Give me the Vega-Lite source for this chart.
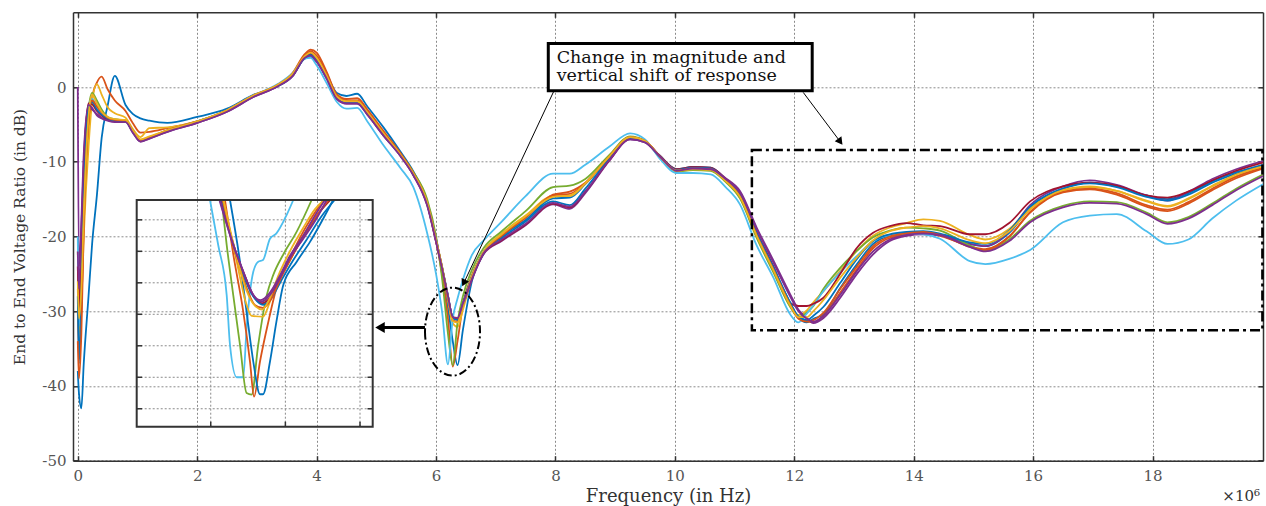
{
"$schema":"https://vega.github.io/schema/vega-lite/v6.json",
"width":1190,"height":448.4,
"autosize":{"type":"none"},
"padding":{"left":73,"top":12.3,"right":3,"bottom":45.3},
"background":"white",
"config":{"view":{"stroke":null},"font":"DejaVu Serif","axis":{"labelFont":"DejaVu Serif","titleFont":"DejaVu Serif"}},
"datasets":{
"main":[
{"f":0,"s1":-38,"s2":-30,"s3":-27,"s4":0,"s5":-22,"s6":-20,"s7":-24,"s8":-28,"s9":-34,"s10":-26,"s11":-22},
{"f":0.02,"s1":-41,"s2":-36,"s3":-33,"s4":-24,"s5":-29,"s6":-32,"s7":-30,"s8":-37,"s9":-39,"s10":-31,"s11":-27},
{"f":0.06,"s1":-43,"s2":-30,"s3":-29,"s4":-19,"s5":-22,"s6":-24,"s7":-21,"s8":-28,"s9":-33,"s10":-27,"s11":-18},
{"f":0.1,"s1":-37,"s2":-18,"s3":-20,"s4":-10,"s5":-12,"s6":-13,"s7":-11,"s8":-15,"s9":-19,"s10":-17,"s11":-9},
{"f":0.18,"s1":-28,"s2":-6,"s3":-8,"s4":-2.6,"s5":-3,"s6":-2.5,"s7":-2.2,"s8":-3,"s9":-4.5,"s10":-4,"s11":-2.4},
{"f":0.24,"s1":-21,"s2":-1.5,"s3":-2,"s4":-3,"s5":-0.8,"s6":-1.6,"s7":-2.3,"s8":-2,"s9":-1.8,"s10":-1,"s11":-2.8},
{"f":0.32,"s1":-14.5,"s2":0.6,"s3":0.4,"s4":-3.6,"s5":-1.8,"s6":-2.6,"s7":-3.2,"s8":-3,"s9":-2.6,"s10":-2.2,"s11":-3.8},
{"f":0.4,"s1":-6.8,"s2":1.4,"s3":-1,"s4":-4.1,"s5":-3,"s6":-3.5,"s7":-3.8,"s8":-3.7,"s9":-3.4,"s10":-3.3,"s11":-4.2},
{"f":0.5,"s1":-2.5,"s2":-0.3,"s3":-2.7,"s4":-4.4,"s5":-4,"s6":-4.1,"s7":-4.3,"s8":-4.2,"s9":-4.1,"s10":-4,"s11":-4.5},
{"f":0.62,"s1":1.5,"s2":-1.8,"s3":-3.5,"s4":-4.6,"s5":-4.3,"s6":-4.4,"s7":-4.5,"s8":-4.5,"s9":-4.4,"s10":-4.3,"s11":-4.7},
{"f":0.8,"s1":-2.4,"s2":-3.2,"s3":-4.1,"s4":-4.6,"s5":-4.5,"s6":-4.5,"s7":-4.5,"s8":-4.6,"s9":-4.5,"s10":-4.4,"s11":-4.7},
{"f":0.92,"s1":-3.6,"s2":-4.8,"s3":-5.6,"s4":-6,"s5":-5.8,"s6":-5.9,"s7":-5.9,"s8":-6,"s9":-5.9,"s10":-5.8,"s11":-6.1},
{"f":1.05,"s1":-4.2,"s2":-6.1,"s3":-6.7,"s4":-7.3,"s5":-7.1,"s6":-7.2,"s7":-7.2,"s8":-7.2,"s9":-7.1,"s10":-7,"s11":-7.3},
{"f":1.2,"s1":-4.5,"s2":-6,"s3":-5.5,"s4":-6.9,"s5":-6.7,"s6":-6.8,"s7":-6.8,"s8":-6.8,"s9":-6.7,"s10":-6.6,"s11":-6.9},
{"f":1.5,"s1":-4.8,"s2":-5.5,"s3":-5.4,"s4":-6,"s5":-5.8,"s6":-5.9,"s7":-5.9,"s8":-5.9,"s9":-5.8,"s10":-5.8,"s11":-6},
{"f":2.0,"s1":-4,"s2":-4.6,"s3":-4.6,"s4":-4.8,"s5":-4.6,"s6":-4.6,"s7":-4.7,"s8":-4.7,"s9":-4.6,"s10":-4.6,"s11":-4.8},
{"f":2.5,"s1":-2.9,"s2":-3.2,"s3":-3.1,"s4":-3.3,"s5":-3.2,"s6":-3.1,"s7":-3.2,"s8":-3.2,"s9":-3.1,"s10":-3.1,"s11":-3.3},
{"f":2.95,"s1":-1,"s2":-1.2,"s3":-1.1,"s4":-1.3,"s5":-1.2,"s6":-1.1,"s7":-1.2,"s8":-1.2,"s9":-1.1,"s10":-1.1,"s11":-1.3},
{"f":3.35,"s1":0.1,"s2":0.3,"s3":0.3,"s4":0.1,"s5":0.2,"s6":0.4,"s7":0.2,"s8":0.2,"s9":0.3,"s10":0.3,"s11":0.1},
{"f":3.6,"s1":1.5,"s2":1.9,"s3":1.8,"s4":1.5,"s5":1.7,"s6":1.9,"s7":1.6,"s8":1.6,"s9":1.8,"s10":1.8,"s11":1.5},
{"f":3.8,"s1":3.8,"s2":4.4,"s3":4.1,"s4":3.9,"s5":4,"s6":3.8,"s7":4,"s8":3.9,"s9":4.2,"s10":4.1,"s11":3.9},
{"f":3.9,"s1":4,"s2":5,"s3":4.5,"s4":4.3,"s5":4.4,"s6":3.9,"s7":4.4,"s8":4.3,"s9":4.8,"s10":4.6,"s11":4.2},
{"f":4.0,"s1":3.4,"s2":4.6,"s3":3.9,"s4":3.5,"s5":3.6,"s6":2.9,"s7":3.6,"s8":3.5,"s9":4.2,"s10":3.9,"s11":3.4},
{"f":4.17,"s1":1.6,"s2":2,"s3":1.5,"s4":1.1,"s5":1.3,"s6":0.5,"s7":1.3,"s8":1.2,"s9":1.8,"s10":1.5,"s11":1.1},
{"f":4.34,"s1":-0.8,"s2":-1,"s3":-1.3,"s4":-1.6,"s5":-1.4,"s6":-2,"s7":-1.4,"s8":-1.5,"s9":-1.2,"s10":-1.3,"s11":-1.6},
{"f":4.5,"s1":-1.2,"s2":-1.6,"s3":-1.9,"s4":-2.2,"s5":-2.1,"s6":-2.9,"s7":-2,"s8":-2.1,"s9":-1.8,"s10":-1.9,"s11":-2.2},
{"f":4.68,"s1":-0.9,"s2":-1.5,"s3":-1.9,"s4":-2.2,"s5":-2.1,"s6":-2.8,"s7":-2,"s8":-2.1,"s9":-1.8,"s10":-1.9,"s11":-2.2},
{"f":4.85,"s1":-2.6,"s2":-3,"s3":-3.4,"s4":-3.7,"s5":-3.6,"s6":-4.6,"s7":-3.5,"s8":-3.6,"s9":-3.3,"s10":-3.4,"s11":-3.7},
{"f":5.12,"s1":-5.4,"s2":-5.9,"s3":-6.2,"s4":-6.5,"s5":-6.4,"s6":-7.8,"s7":-6.3,"s8":-6.4,"s9":-6.1,"s10":-6.2,"s11":-6.5},
{"f":5.4,"s1":-8.6,"s2":-8.8,"s3":-9,"s4":-9.2,"s5":-9,"s6":-10.8,"s7":-9,"s8":-9.1,"s9":-8.9,"s10":-9,"s11":-9.2},
{"f":5.62,"s1":-11.3,"s2":-11.5,"s3":-11.6,"s4":-11.8,"s5":-11.4,"s6":-13.4,"s7":-11.7,"s8":-11.7,"s9":-11.5,"s10":-11.6,"s11":-11.8},
{"f":5.85,"s1":-15.3,"s2":-15.6,"s3":-15.5,"s4":-15.8,"s5":-15,"s6":-19.5,"s7":-15.6,"s8":-15.5,"s9":-15.5,"s10":-15.4,"s11":-15.8},
{"f":6.0,"s1":-20.2,"s2":-20.6,"s3":-20.5,"s4":-20.7,"s5":-20,"s6":-25,"s7":-20.6,"s8":-20.4,"s9":-20.5,"s10":-20.4,"s11":-20.7},
{"f":6.1,"s1":-24.5,"s2":-25,"s3":-24,"s4":-24.2,"s5":-25.5,"s6":-30,"s7":-24.1,"s8":-24,"s9":-24.1,"s10":-24,"s11":-24.2},
{"f":6.2,"s1":-29.5,"s2":-31,"s3":-28.5,"s4":-28,"s5":-33,"s6":-37.1,"s7":-28,"s8":-27.9,"s9":-28.2,"s10":-28.1,"s11":-28},
{"f":6.28,"s1":-34,"s2":-37.4,"s3":-31.6,"s4":-30.8,"s5":-37.2,"s6":-31,"s7":-30.8,"s8":-30.9,"s9":-31.2,"s10":-31.3,"s11":-30.8},
{"f":6.36,"s1":-37.2,"s2":-34,"s3":-32.1,"s4":-31,"s5":-31.5,"s6":-28.3,"s7":-31.1,"s8":-31.2,"s9":-31.4,"s10":-31.5,"s11":-30.9},
{"f":6.45,"s1":-32.5,"s2":-29.2,"s3":-29.8,"s4":-29.2,"s5":-28,"s6":-25.8,"s7":-29,"s8":-28.9,"s9":-29.1,"s10":-29.3,"s11":-29},
{"f":6.6,"s1":-26,"s2":-25.2,"s3":-25.5,"s4":-25.8,"s5":-24.5,"s6":-22.5,"s7":-25.6,"s8":-25.4,"s9":-25.5,"s10":-25.4,"s11":-25.7},
{"f":6.8,"s1":-22.3,"s2":-22.1,"s3":-22,"s4":-22.3,"s5":-21.5,"s6":-20.5,"s7":-22.2,"s8":-22,"s9":-22.1,"s10":-22,"s11":-22.2},
{"f":7.1,"s1":-20,"s2":-19.8,"s3":-19.6,"s4":-20.6,"s5":-19.3,"s6":-18,"s7":-20.5,"s8":-20.2,"s9":-19.9,"s10":-19.7,"s11":-20.4},
{"f":7.5,"s1":-17.8,"s2":-17.4,"s3":-17.2,"s4":-18.5,"s5":-16.6,"s6":-14.6,"s7":-18.4,"s8":-18,"s9":-17.5,"s10":-17.3,"s11":-18.3},
{"f":7.96,"s1":-14.9,"s2":-14.4,"s3":-14.6,"s4":-15.7,"s5":-13.4,"s6":-11.6,"s7":-15.6,"s8":-15.3,"s9":-14.5,"s10":-14.7,"s11":-15.5},
{"f":8.24,"s1":-14.8,"s2":-14,"s3":-14.6,"s4":-16.3,"s5":-13.2,"s6":-11.6,"s7":-16.1,"s8":-15.8,"s9":-14.3,"s10":-14.5,"s11":-16},
{"f":8.5,"s1":-13,"s2":-12.8,"s3":-12.9,"s4":-14.2,"s5":-12.3,"s6":-10.4,"s7":-14,"s8":-13.6,"s9":-12.9,"s10":-12.9,"s11":-14},
{"f":8.9,"s1":-9.4,"s2":-9.3,"s3":-9.3,"s4":-9.9,"s5":-9.1,"s6":-8,"s7":-9.8,"s8":-9.6,"s9":-9.3,"s10":-9.3,"s11":-9.8},
{"f":9.25,"s1":-6.8,"s2":-6.7,"s3":-6.7,"s4":-7,"s5":-6.6,"s6":-6.2,"s7":-6.9,"s8":-6.8,"s9":-6.7,"s10":-6.7,"s11":-7},
{"f":9.5,"s1":-7.3,"s2":-7.2,"s3":-7.2,"s4":-7.4,"s5":-7.2,"s6":-7,"s7":-7.3,"s8":-7.3,"s9":-7.2,"s10":-7.2,"s11":-7.4},
{"f":9.75,"s1":-9.2,"s2":-9.3,"s3":-9.3,"s4":-9.3,"s5":-9.4,"s6":-9.6,"s7":-9.2,"s8":-9.3,"s9":-9.3,"s10":-9.3,"s11":-9.3},
{"f":10.03,"s1":-11,"s2":-11.2,"s3":-11.2,"s4":-11.1,"s5":-11.3,"s6":-11.5,"s7":-11,"s8":-11.1,"s9":-11.2,"s10":-11.2,"s11":-11.2},
{"f":10.3,"s1":-10.7,"s2":-10.9,"s3":-11,"s4":-10.8,"s5":-11.1,"s6":-11.5,"s7":-10.7,"s8":-10.8,"s9":-10.9,"s10":-11,"s11":-10.9},
{"f":10.6,"s1":-10.8,"s2":-11,"s3":-11.1,"s4":-10.9,"s5":-11.2,"s6":-11.7,"s7":-10.8,"s8":-10.9,"s9":-11,"s10":-11.1,"s11":-11},
{"f":10.85,"s1":-12.4,"s2":-12.5,"s3":-12.6,"s4":-12.2,"s5":-12.7,"s6":-13.4,"s7":-12.3,"s8":-12.4,"s9":-12.5,"s10":-12.6,"s11":-12.3},
{"f":11.09,"s1":-14.5,"s2":-14.6,"s3":-14.8,"s4":-13.9,"s5":-14.9,"s6":-15.7,"s7":-14.3,"s8":-14.4,"s9":-14.6,"s10":-14.7,"s11":-14.1},
{"f":11.37,"s1":-19.6,"s2":-19.8,"s3":-20,"s4":-18.8,"s5":-20.2,"s6":-21.2,"s7":-19.4,"s8":-19.5,"s9":-19.8,"s10":-19.9,"s11":-19},
{"f":11.65,"s1":-24.2,"s2":-24.4,"s3":-24.6,"s4":-23.2,"s5":-24.8,"s6":-25.5,"s7":-24,"s8":-24.1,"s9":-24.4,"s10":-24.5,"s11":-23.5},
{"f":11.93,"s1":-28.9,"s2":-29,"s3":-29.3,"s4":-27.7,"s5":-29.4,"s6":-30.4,"s7":-28.9,"s8":-28.8,"s9":-29.1,"s10":-29.2,"s11":-28},
{"f":12.07,"s1":-30.9,"s2":-30.8,"s3":-30.5,"s4":-29.8,"s5":-30.8,"s6":-31.5,"s7":-29.3,"s8":-30.7,"s9":-31,"s10":-30.8,"s11":-30},
{"f":12.21,"s1":-31.5,"s2":-31.3,"s3":-29.9,"s4":-30.9,"s5":-30.2,"s6":-30.3,"s7":-29.3,"s8":-31.2,"s9":-31.4,"s10":-30.8,"s11":-31},
{"f":12.32,"s1":-31,"s2":-31.5,"s3":-28.8,"s4":-31.6,"s5":-29.3,"s6":-29.2,"s7":-29,"s8":-30.6,"s9":-31.2,"s10":-30,"s11":-31.4},
{"f":12.49,"s1":-30.4,"s2":-30.6,"s3":-27.3,"s4":-30.9,"s5":-27,"s6":-27.3,"s7":-28.2,"s8":-29.4,"s9":-30.2,"s10":-28.5,"s11":-30.6},
{"f":12.77,"s1":-26.9,"s2":-27.5,"s3":-24.6,"s4":-28.2,"s5":-24.2,"s6":-24.8,"s7":-25,"s8":-26.2,"s9":-27,"s10":-25.5,"s11":-27.8},
{"f":13.05,"s1":-23.7,"s2":-24.4,"s3":-21.9,"s4":-25,"s5":-21.9,"s6":-22.6,"s7":-21.5,"s8":-23,"s9":-24,"s10":-22.8,"s11":-24.6},
{"f":13.32,"s1":-21,"s2":-21.6,"s3":-19.9,"s4":-22.4,"s5":-20.1,"s6":-20.6,"s7":-19.5,"s8":-20.6,"s9":-21.3,"s10":-20.5,"s11":-22},
{"f":13.6,"s1":-19.9,"s2":-20.2,"s3":-18.8,"s4":-20.6,"s5":-19.2,"s6":-19.8,"s7":-18.6,"s8":-19.7,"s9":-20,"s10":-19.3,"s11":-20.4},
{"f":13.88,"s1":-19.7,"s2":-19.8,"s3":-18.2,"s4":-19.9,"s5":-18.8,"s6":-19.6,"s7":-18.2,"s8":-19.4,"s9":-19.6,"s10":-18.8,"s11":-19.8},
{"f":14.16,"s1":-19.6,"s2":-19.6,"s3":-17.7,"s4":-19.7,"s5":-18.9,"s6":-19.7,"s7":-18.5,"s8":-19.3,"s9":-19.4,"s10":-18.6,"s11":-19.6},
{"f":14.44,"s1":-19.8,"s2":-19.9,"s3":-17.9,"s4":-19.8,"s5":-19.2,"s6":-20.3,"s7":-18.6,"s8":-19.6,"s9":-19.8,"s10":-18.9,"s11":-19.8},
{"f":14.94,"s1":-21,"s2":-21.3,"s3":-19.8,"s4":-21,"s5":-21.2,"s6":-23.3,"s7":-19.7,"s8":-20.8,"s9":-21.4,"s10":-20.5,"s11":-21.4},
{"f":15.2,"s1":-21.3,"s2":-21.7,"s3":-20.4,"s4":-21.3,"s5":-21.9,"s6":-23.7,"s7":-19.7,"s8":-21,"s9":-21.8,"s10":-20.9,"s11":-22},
{"f":15.6,"s1":-19.5,"s2":-20,"s3":-19,"s4":-19.3,"s5":-20.4,"s6":-23,"s7":-18.2,"s8":-19.2,"s9":-20,"s10":-19.3,"s11":-20.6},
{"f":15.95,"s1":-16.2,"s2":-16.8,"s3":-16.2,"s4":-15.8,"s5":-17.9,"s6":-21.8,"s7":-15.3,"s8":-16,"s9":-16.7,"s10":-16.4,"s11":-18.1},
{"f":16.5,"s1":-13.6,"s2":-14.1,"s3":-13.9,"s4":-13.3,"s5":-15.9,"s6":-18.1,"s7":-13.3,"s8":-13.6,"s9":-14,"s10":-13.8,"s11":-16.1},
{"f":16.95,"s1":-12.8,"s2":-13.7,"s3":-13.4,"s4":-12.5,"s5":-15.3,"s6":-17.2,"s7":-12.8,"s8":-12.9,"s9":-13.6,"s10":-13.3,"s11":-15.5},
{"f":17.4,"s1":-13.3,"s2":-14.4,"s3":-13.9,"s4":-13.1,"s5":-15.4,"s6":-17,"s7":-13.2,"s8":-13.4,"s9":-14.2,"s10":-13.9,"s11":-15.6},
{"f":17.9,"s1":-14.5,"s2":-16,"s3":-15.3,"s4":-14.5,"s5":-16.8,"s6":-19.3,"s7":-14.5,"s8":-14.7,"s9":-15.8,"s10":-15.2,"s11":-17},
{"f":18.25,"s1":-15,"s2":-16.6,"s3":-16,"s4":-15.2,"s5":-18.1,"s6":-21,"s7":-14.8,"s8":-15.2,"s9":-16.4,"s10":-15.9,"s11":-18.3},
{"f":18.6,"s1":-14.2,"s2":-15.6,"s3":-15,"s4":-14,"s5":-17.4,"s6":-20.4,"s7":-14,"s8":-14.4,"s9":-15.4,"s10":-14.9,"s11":-17.6},
{"f":19.0,"s1":-12.6,"s2":-13.8,"s3":-13.3,"s4":-12.3,"s5":-15.6,"s6":-17.6,"s7":-12.5,"s8":-12.8,"s9":-13.6,"s10":-13.2,"s11":-15.8},
{"f":19.4,"s1":-11.4,"s2":-12.2,"s3":-11.9,"s4":-11,"s5":-13.6,"s6":-15.2,"s7":-11.2,"s8":-11.6,"s9":-12,"s10":-11.7,"s11":-13.8},
{"f":19.85,"s1":-10.4,"s2":-10.9,"s3":-10.6,"s4":-9.9,"s5":-11.7,"s6":-13,"s7":-10.1,"s8":-10.5,"s9":-10.8,"s10":-10.6,"s11":-11.9}
],
"inset":[
{"s":"s6","f":5.995,"v":-24.74},{"s":"s6","f":6.05,"v":-27.6},{"s":"s6","f":6.107,"v":-30.8},{"s":"s6","f":6.129,"v":-33.95},{"s":"s6","f":6.174,"v":-36.0},{"s":"s6","f":6.218,"v":-36.0},{"s":"s6","f":6.24,"v":-32.9},{"s":"s6","f":6.285,"v":-29.3},{"s":"s6","f":6.318,"v":-28.66},{"s":"s6","f":6.35,"v":-28.55},{"s":"s6","f":6.397,"v":-27.2},{"s":"s6","f":6.44,"v":-26.86},{"s":"s6","f":6.508,"v":-25.7},{"s":"s6","f":6.553,"v":-24.74},
{"s":"s5","f":6.073,"v":-24.74},{"s":"s5","f":6.107,"v":-27.6},{"s":"s5","f":6.151,"v":-30.8},{"s":"s5","f":6.196,"v":-33.95},{"s":"s5","f":6.24,"v":-37.0},{"s":"s5","f":6.274,"v":-37.1},{"s":"s5","f":6.318,"v":-33.95},{"s":"s5","f":6.375,"v":-30.8},{"s":"s5","f":6.419,"v":-29.5},{"s":"s5","f":6.486,"v":-28.2},{"s":"s5","f":6.576,"v":-26.75},{"s":"s5","f":6.676,"v":-24.74},
{"s":"s2","f":6.095,"v":-24.74},{"s":"s2","f":6.151,"v":-28.2},{"s":"s2","f":6.218,"v":-31.84},{"s":"s2","f":6.263,"v":-35.0},{"s":"s2","f":6.29,"v":-37.23},{"s":"s2","f":6.33,"v":-35.0},{"s":"s2","f":6.386,"v":-32.47},{"s":"s2","f":6.44,"v":-30.35},{"s":"s2","f":6.53,"v":-28.44},{"s":"s2","f":6.62,"v":-26.75},{"s":"s2","f":6.754,"v":-24.74},
{"s":"s1","f":6.129,"v":-24.74},{"s":"s1","f":6.196,"v":-28.66},{"s":"s1","f":6.24,"v":-31.84},{"s":"s1","f":6.285,"v":-35.0},{"s":"s1","f":6.33,"v":-37.08},{"s":"s1","f":6.35,"v":-37.08},{"s":"s1","f":6.397,"v":-35.0},{"s":"s1","f":6.44,"v":-32.47},{"s":"s1","f":6.486,"v":-30.14},{"s":"s1","f":6.576,"v":-28.66},{"s":"s1","f":6.665,"v":-27.4},{"s":"s1","f":6.82,"v":-24.74},
{"s":"s3","f":6.084,"v":-24.74},{"s":"s3","f":6.174,"v":-28.66},{"s":"s3","f":6.24,"v":-31.4},{"s":"s3","f":6.274,"v":-32.1},{"s":"s3","f":6.35,"v":-32.15},{"s":"s3","f":6.397,"v":-31.2},{"s":"s3","f":6.452,"v":-29.93},{"s":"s3","f":6.53,"v":-28.6},{"s":"s3","f":6.62,"v":-27.0},{"s":"s3","f":6.72,"v":-25.6},{"s":"s3","f":6.8,"v":-24.74},
{"s":"s7","f":6.068,"v":-24.74},{"s":"s7","f":6.16,"v":-27.8},{"s":"s7","f":6.225,"v":-29.5},{"s":"s7","f":6.29,"v":-30.9},{"s":"s7","f":6.345,"v":-31.3},{"s":"s7","f":6.4,"v":-30.9},{"s":"s7","f":6.47,"v":-29.6},{"s":"s7","f":6.55,"v":-28.2},{"s":"s7","f":6.64,"v":-26.8},{"s":"s7","f":6.73,"v":-25.5},{"s":"s7","f":6.8,"v":-24.74},
{"s":"s8","f":6.075,"v":-24.74},{"s":"s8","f":6.165,"v":-28.0},{"s":"s8","f":6.23,"v":-29.8},{"s":"s8","f":6.295,"v":-31.0},{"s":"s8","f":6.35,"v":-31.4},{"s":"s8","f":6.405,"v":-31.0},{"s":"s8","f":6.47,"v":-29.9},{"s":"s8","f":6.55,"v":-28.6},{"s":"s8","f":6.64,"v":-27.3},{"s":"s8","f":6.74,"v":-25.8},{"s":"s8","f":6.83,"v":-24.74},
{"s":"s9","f":6.08,"v":-24.74},{"s":"s9","f":6.17,"v":-28.3},{"s":"s9","f":6.235,"v":-30.2},{"s":"s9","f":6.295,"v":-31.4},{"s":"s9","f":6.35,"v":-31.6},{"s":"s9","f":6.4,"v":-31.1},{"s":"s9","f":6.46,"v":-29.9},{"s":"s9","f":6.54,"v":-28.4},{"s":"s9","f":6.63,"v":-26.9},{"s":"s9","f":6.72,"v":-25.6},{"s":"s9","f":6.79,"v":-24.74},
{"s":"s10","f":6.085,"v":-24.74},{"s":"s10","f":6.175,"v":-28.4},{"s":"s10","f":6.24,"v":-30.5},{"s":"s10","f":6.3,"v":-31.5},{"s":"s10","f":6.345,"v":-31.7},{"s":"s10","f":6.395,"v":-31.0},{"s":"s10","f":6.45,"v":-29.6},{"s":"s10","f":6.53,"v":-28.0},{"s":"s10","f":6.62,"v":-26.5},{"s":"s10","f":6.7,"v":-25.3},{"s":"s10","f":6.76,"v":-24.74},
{"s":"s4","f":6.062,"v":-24.74},{"s":"s4","f":6.151,"v":-27.6},{"s":"s4","f":6.218,"v":-29.3},{"s":"s4","f":6.285,"v":-30.77},{"s":"s4","f":6.34,"v":-31.2},{"s":"s4","f":6.397,"v":-30.77},{"s":"s4","f":6.464,"v":-29.7},{"s":"s4","f":6.53,"v":-28.44},{"s":"s4","f":6.62,"v":-27.2},{"s":"s4","f":6.71,"v":-25.9},{"s":"s4","f":6.777,"v":-24.74},
{"s":"s11","f":6.058,"v":-24.74},{"s":"s11","f":6.148,"v":-27.5},{"s":"s11","f":6.215,"v":-29.2},{"s":"s11","f":6.28,"v":-30.7},{"s":"s11","f":6.335,"v":-31.1},{"s":"s11","f":6.39,"v":-30.7},{"s":"s11","f":6.46,"v":-29.6},{"s":"s11","f":6.53,"v":-28.3},{"s":"s11","f":6.62,"v":-27.0},{"s":"s11","f":6.7,"v":-25.7},{"s":"s11","f":6.765,"v":-24.74}
],
"ixg":[{"g":6.0},{"g":6.5},{"g":7.0}],
"iyg":[{"g":-26},{"g":-28},{"g":-30},{"g":-32},{"g":-34},{"g":-36},{"g":-38}]
},
"resolve":{"scale":{"x":"independent","y":"independent"}},
"layer":[
{"layer":[
 {"data":{"name":"main"},
  "transform":[{"fold":["s1","s2","s3","s4","s5","s6","s7","s8","s9","s10","s11"],"as":["s","v"]}],
  "mark":{"type":"line","strokeWidth":1.8,"interpolate":"monotone","clip":true},
  "encoding":{
   "x":{"field":"f","type":"quantitative","scale":{"domain":[-0.08,19.85],"nice":false,"zero":false},
     "axis":{"title":"Frequency (in Hz)","values":[0,2,4,6,8,10,12,14,16,18],"labelExpr":"'' + datum.value","grid":true,"gridDash":[2,2],"gridColor":"#8a8a8a","gridWidth":1,"tickSize":-5,"tickColor":"#333","tickWidth":1.5,"domainColor":"#333","domainWidth":1.5,"labelFontSize":15,"labelColor":"#555","labelPadding":13,"titleFontSize":18,"titleFontWeight":"normal","titleColor":"#333","titlePadding":4}},
   "y":{"field":"v","type":"quantitative","scale":{"domain":[-50,10],"nice":false,"zero":false},
     "axis":{"title":"End to End Voltage Ratio (in dB)","values":[-50,-40,-30,-20,-10,0],"labelExpr":"'' + datum.value","grid":true,"gridDash":[2,2],"gridColor":"#8a8a8a","gridWidth":1,"tickSize":-5,"tickColor":"#333","tickWidth":1.5,"domainColor":"#333","domainWidth":1.5,"labelFontSize":15,"labelColor":"#555","labelPadding":12,"titleFontSize":15.5,"titleFontWeight":"normal","titleColor":"#333","titlePadding":14}},
   "color":{"field":"s","type":"nominal","scale":{"domain":["s1","s2","s3","s4","s5","s6","s7","s8","s9","s10","s11"],"range":["#0072BD","#D95319","#EDB120","#7E2F8E","#77AC30","#4DBEEE","#A2142F","#0072BD","#D95319","#EDB120","#7E2F8E"]},"legend":null}
  }},
 {"data":{"values":[{}]},"mark":{"type":"rect","fill":"white","fillOpacity":0,"stroke":"#000","strokeWidth":2.5,"strokeDash":[10,4,3,4]},
  "encoding":{"x":{"datum":11.29},"x2":{"datum":19.84},"y":{"datum":-8.43},"y2":{"datum":-32.53}}},
 {"data":{"values":[{}]},"mark":{"type":"point","shape":"M -0.625 0 A 0.625 1 0 1 0 0.625 0 A 0.625 1 0 1 0 -0.625 0 Z","size":7744,"filled":false,"color":"#000","opacity":1,"strokeWidth":2,"strokeDash":[8,3,2,3]},
  "encoding":{"x":{"datum":6.276},"y":{"datum":-32.73}}},
 {"data":{"values":[{}]},"mark":{"type":"rule","color":"#000","strokeWidth":3},
  "encoding":{"x":{"datum":5.815},"x2":{"datum":5.07},"y":{"datum":-32.18}}},
 {"data":{"values":[{}]},"mark":{"type":"point","shape":"triangle-left","size":120,"filled":true,"color":"#000","opacity":1},
  "encoding":{"x":{"datum":5.062},"y":{"datum":-32.18}}},
 {"data":{"values":[{}]},"mark":{"type":"rect","fill":"white","stroke":"#000","strokeWidth":3},
  "encoding":{"x":{"datum":7.88},"x2":{"datum":12.3},"y":{"datum":5.84},"y2":{"datum":-0.5}}},
 {"data":{"values":[{}]},"mark":{"type":"text","text":["Change in magnitude and","vertical shift of response"],"align":"left","baseline":"middle","fontSize":17.5,"lineHeight":18,"font":"DejaVu Serif","color":"#111"},
  "encoding":{"x":{"datum":8.02},"y":{"datum":3.92}}},
 {"data":{"values":[{}]},"mark":{"type":"rule","color":"#000","strokeWidth":1},
  "encoding":{"x":{"datum":7.976},"y":{"datum":-0.5},"x2":{"datum":6.465},"y2":{"datum":-26.23}}},
 {"data":{"values":[{}]},"mark":{"type":"point","shape":"triangle-up","size":70,"filled":true,"color":"#000","opacity":1,"angle":205},
  "encoding":{"x":{"datum":6.465},"y":{"datum":-26.23}}},
 {"data":{"values":[{}]},"mark":{"type":"rule","color":"#000","strokeWidth":1},
  "encoding":{"x":{"datum":12.15},"y":{"datum":-0.72},"x2":{"datum":12.77},"y2":{"datum":-7.32}}},
 {"data":{"values":[{}]},"mark":{"type":"point","shape":"triangle-up","size":70,"filled":true,"color":"#000","opacity":1,"angle":143},
  "encoding":{"x":{"datum":12.77},"y":{"datum":-7.32}}},
 {"data":{"values":[{}]},"mark":{"type":"text","text":"×10⁶","align":"right","baseline":"alphabetic","fontSize":15,"font":"DejaVu Serif","color":"#333"},
  "encoding":{"x":{"datum":19.8},"y":{"datum":-55.4}}}
]},
{"layer":[
 {"data":{"name":"ixg"},"mark":{"type":"rule","strokeDash":[2,2],"color":"#8a8a8a","strokeWidth":1},
  "encoding":{"x":{"field":"g","type":"quantitative","scale":{"domain":[5.504,7.085],"range":[63.7,299.7],"nice":false,"zero":false},"axis":null},
   "y":{"datum":-39.14,"type":"quantitative","scale":{"domain":[-39.14,-24.74],"range":[414.4,187.7],"nice":false,"zero":false},"axis":null},"y2":{"datum":-24.74}}},
 {"data":{"name":"iyg"},"mark":{"type":"rule","strokeDash":[2,2],"color":"#8a8a8a","strokeWidth":1},
  "encoding":{"y":{"field":"g","type":"quantitative","axis":null},"x":{"datum":5.504,"type":"quantitative","axis":null},"x2":{"datum":7.085}}},
 {"data":{"name":"iyg"},"mark":{"type":"rule","color":"#333","strokeWidth":1.5},
  "encoding":{"y":{"field":"g","type":"quantitative","axis":null},"x":{"datum":5.504,"type":"quantitative","axis":null},"x2":{"datum":5.54}}},
 {"data":{"name":"iyg"},"mark":{"type":"rule","color":"#333","strokeWidth":1.5},
  "encoding":{"y":{"field":"g","type":"quantitative","axis":null},"x":{"datum":7.05,"type":"quantitative","axis":null},"x2":{"datum":7.085}}},
 {"data":{"name":"ixg"},"mark":{"type":"rule","color":"#333","strokeWidth":1.5},
  "encoding":{"x":{"field":"g","type":"quantitative","axis":null},"y":{"datum":-39.14,"type":"quantitative","axis":null},"y2":{"datum":-38.82}}},
 {"data":{"name":"inset"},"mark":{"type":"line","strokeWidth":1.8,"interpolate":"monotone"},
  "encoding":{"x":{"field":"f","type":"quantitative","axis":null},"y":{"field":"v","type":"quantitative","axis":null},
   "color":{"field":"s","type":"nominal","legend":null}}},
 {"data":{"values":[{}]},"mark":{"type":"rect","fill":"white","fillOpacity":0,"stroke":"#333","strokeWidth":2},
  "encoding":{"x":{"datum":5.504,"type":"quantitative","axis":null},"x2":{"datum":7.085},"y":{"datum":-39.14,"type":"quantitative","axis":null},"y2":{"datum":-24.74}}}
]},
{"data":{"values":[{}]},"mark":{"type":"point","opacity":0},
 "encoding":{
  "x":{"datum":0,"type":"quantitative","scale":{"domain":[-0.08,19.85],"nice":false,"zero":false},
   "axis":{"orient":"top","values":[0,2,4,6,8,10,12,14,16,18],"labels":false,"title":null,"grid":false,"tickSize":-5,"tickColor":"#333","tickWidth":1.5,"domainColor":"#333","domainWidth":1.5}},
  "y":{"datum":0,"type":"quantitative","scale":{"domain":[-50,10],"nice":false,"zero":false},
   "axis":{"orient":"right","values":[-50,-40,-30,-20,-10,0],"labels":false,"title":null,"grid":false,"tickSize":-5,"tickColor":"#333","tickWidth":1.5,"domainColor":"#333","domainWidth":1.5}}}}
]
}
